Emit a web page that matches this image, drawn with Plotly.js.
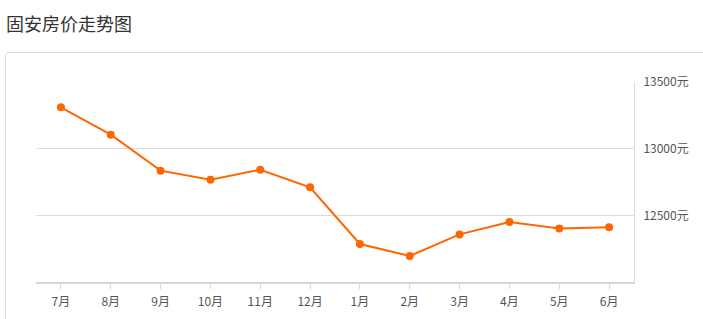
<!DOCTYPE html>
<html>
<head>
<meta charset="utf-8">
<script src="https://cdn.plot.ly/plotly-3.0.1.min.js"></script>
<style>
html,body{margin:0;padding:0;background:#fff;width:703px;height:319px;overflow:hidden;}
#title{position:absolute;left:6px;top:10px;font-family:"Noto Sans CJK SC","Noto Sans",sans-serif;font-size:18px;color:#333;line-height:26px;}
#card{position:absolute;left:5px;top:52px;width:720px;height:300px;border:1px solid #ddd;border-radius:4px;box-sizing:border-box;}
#chart{position:absolute;left:0;top:0;width:703px;height:319px;}
</style>
</head>
<body>
<div id="title">固安房价走势图</div>
<div id="card"></div>
<div id="chart"></div>
<script>
const months = ["7月","8月","9月","10月","11月","12月","1月","2月","3月","4月","5月","6月"];
const prices = [13310,13105,12835,12767,12842,12710,12285,12195,12357,12450,12402,12410];
const yTicks = [12500,13000,13500];
const yTickLabels = ["12500元","13000元","13500元"];

const trace = {
  x: months,
  y: prices,
  type: 'scatter',
  mode: 'lines+markers',
  line: {color: '#ff6600', width: 2},
  marker: {color: '#ff6600', size: 8},
  hoverinfo: 'x+y'
};

const layout = {
  width: 703,
  height: 319,
  margin: {l: 36, r: 69, t: 82, b: 37},
  paper_bgcolor: 'rgba(0,0,0,0)',
  plot_bgcolor: 'rgba(0,0,0,0)',
  showlegend: false,
  font: {family: '"Noto Sans CJK SC", "Noto Sans", sans-serif', size: 12, color: '#555'},
  xaxis: {
    type: 'category',
    range: [-0.5, 11.5],
    showgrid: false,
    showline: true,
    linecolor: '#d6d6d6',
    linewidth: 2,
    ticks: 'outside',
    ticklen: 5,
    tickcolor: '#d6d6d6',
    tickwidth: 1,
    tickfont: {size: 12, color: '#555'},
    ticklabelstandoff: 3,
    fixedrange: true,
    zeroline: false
  },
  yaxis: {
    side: 'right',
    range: [12000, 13500],
    tickmode: 'array',
    tickvals: yTicks,
    ticktext: yTickLabels,
    showgrid: true,
    gridcolor: '#dddddd',
    gridwidth: 1,
    showline: true,
    linecolor: '#dddddd',
    linewidth: 1,
    ticks: '',
    tickfont: {size: 12, color: '#555'},
    ticklabelstandoff: 6,
    zeroline: false,
    fixedrange: true
  }
};

Plotly.newPlot('chart', [trace], layout, {displayModeBar: false, staticPlot: true});
</script>
</body>
</html>
